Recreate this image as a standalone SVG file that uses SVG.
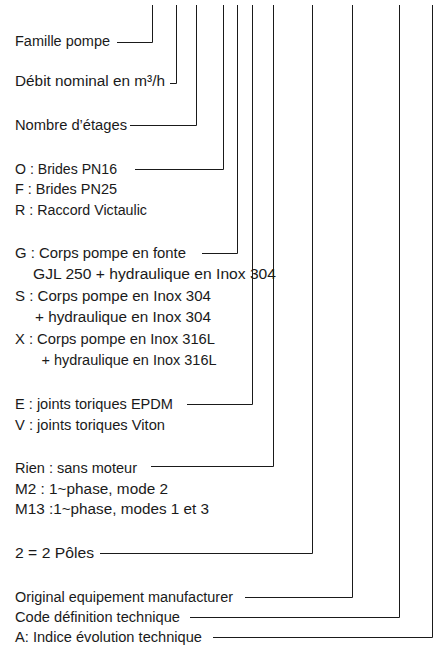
<svg xmlns="http://www.w3.org/2000/svg" width="437" height="645" viewBox="0 0 437 645">
<style>
text{font-family:"Liberation Sans",Arial,sans-serif;font-size:15.5px;fill:#1a1a1a}
.c path{fill:none;stroke:#1a1a1a;stroke-width:1}
</style>
<rect width="437" height="645" fill="#fff"/>
<g class="c" id="connectors">
<path d="M152.5 5V42.5H117"/>
<path d="M176.5 5V83.5H170"/>
<path d="M196.5 5V125.5H130"/>
<path d="M223.5 5V169.5H135"/>
<path d="M237.5 5V253.5H202"/>
<path d="M252.5 5V404.5H187"/>
<path d="M273.5 5V466.5H151"/>
<path d="M312.5 5V553.5H100"/>
<path d="M352.5 5V597.5H245"/>
<path d="M399.5 5V617.5H190"/>
<path d="M432.5 5V637.5H213"/>
</g>
<g id="famille"><text x="15" y="46" textLength="95" lengthAdjust="spacingAndGlyphs">Famille pompe</text></g>
<g id="debit"><text x="15" y="86" textLength="150" lengthAdjust="spacingAndGlyphs">Débit nominal en m³/h</text></g>
<g id="etages"><text x="15" y="130" textLength="112" lengthAdjust="spacingAndGlyphs">Nombre d’étages</text></g>
<g id="brides">
<text x="15" y="173.5" textLength="102" lengthAdjust="spacingAndGlyphs">O : Brides PN16</text>
<text x="15" y="194" textLength="102" lengthAdjust="spacingAndGlyphs">F : Brides PN25</text>
<text x="15" y="214.5" textLength="132" lengthAdjust="spacingAndGlyphs">R : Raccord Victaulic</text>
</g>
<g id="corps">
<text x="15" y="258" textLength="171" lengthAdjust="spacingAndGlyphs">G : Corps pompe en fonte</text>
<text x="33" y="279" textLength="243" lengthAdjust="spacingAndGlyphs">GJL 250 + hydraulique en Inox 304</text>
<text x="15" y="300.5" textLength="196" lengthAdjust="spacingAndGlyphs">S : Corps pompe en Inox 304</text>
<text x="35" y="322" textLength="176" lengthAdjust="spacingAndGlyphs">+ hydraulique en Inox 304</text>
<text x="15" y="343.5" textLength="200" lengthAdjust="spacingAndGlyphs">X : Corps pompe en Inox 316L</text>
<text x="41.5" y="364.5" textLength="175" lengthAdjust="spacingAndGlyphs">+ hydraulique en Inox 316L</text>
</g>
<g id="joints">
<text x="15" y="409" textLength="158" lengthAdjust="spacingAndGlyphs">E : joints toriques EPDM</text>
<text x="15" y="430" textLength="150" lengthAdjust="spacingAndGlyphs">V : joints toriques Viton</text>
</g>
<g id="moteur">
<text x="15" y="472.5" textLength="122" lengthAdjust="spacingAndGlyphs">Rien : sans moteur</text>
<text x="15" y="493.5" textLength="153" lengthAdjust="spacingAndGlyphs">M2 : 1~phase, mode 2</text>
<text x="15" y="514" textLength="194" lengthAdjust="spacingAndGlyphs">M13 :1~phase, modes 1 et 3</text>
</g>
<g id="poles"><text x="15" y="557.5" textLength="79" lengthAdjust="spacingAndGlyphs">2 = 2 Pôles</text></g>
<g id="oem"><text x="15" y="601.5" textLength="218" lengthAdjust="spacingAndGlyphs">Original equipement manufacturer</text></g>
<g id="code"><text x="15" y="621.5" textLength="165" lengthAdjust="spacingAndGlyphs">Code définition technique</text></g>
<g id="indice"><text x="15" y="641.5" textLength="187" lengthAdjust="spacingAndGlyphs">A: Indice évolution technique</text></g>
</svg>
